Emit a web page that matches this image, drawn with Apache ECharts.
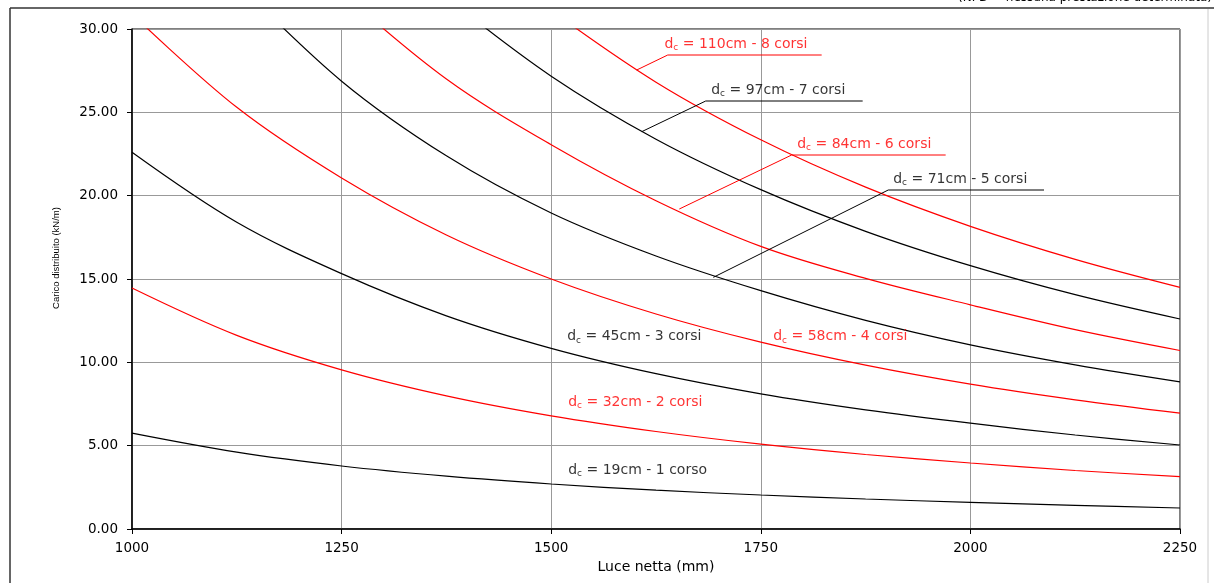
<!DOCTYPE html>
<html>
<head>
<meta charset="utf-8">
<script src="https://cdn.jsdelivr.net/npm/echarts@6/dist/echarts.min.js"></script>
<style>
html,body{margin:0;padding:0;background:#fff;}
#chart{width:1214px;height:583px;}
</style>
</head>
<body>
<div id="chart"></div>
<script>
// ---- data (values above 30 lie off the chart and are clipped) ----
const xTicks = [1000, 1250, 1500, 1750, 2000, 2250];
const dc19 = [[1000,5.75],[1125,4.61],[1250,3.78],[1375,3.17],[1500,2.70],[1625,2.33],[1750,2.04],[1875,1.80],[2000,1.60],[2125,1.415],[2250,1.26]];
const dc32 = [[1000,14.46],[1125,11.62],[1250,9.55],[1375,7.99],[1500,6.79],[1625,5.85],[1750,5.09],[1875,4.47],[2000,3.96],[2125,3.51],[2250,3.14]];
const dc45 = [[1000,22.6],[1125,18.4],[1250,15.32],[1375,12.79],[1500,10.84],[1625,9.32],[1750,8.11],[1875,7.15],[2000,6.35],[2125,5.64],[2250,5.04]];
const dc58 = [[1000,30.9],[1125,25.3],[1250,21.06],[1375,17.64],[1500,15.0],[1625,12.9],[1750,11.21],[1875,9.83],[2000,8.69],[2125,7.75],[2250,6.95]];
const dc71 = [[1125,32.8],[1250,26.87],[1375,22.39],[1500,18.96],[1625,16.38],[1750,14.3],[1875,12.52],[2000,11.05],[2125,9.85],[2250,8.83]];
const dc84 = [[1250,32.2],[1375,27.0],[1500,23.06],[1625,19.7],[1750,16.96],[1875,15.04],[2000,13.45],[2125,11.96],[2250,10.71]];
const dc97 = [[1375,31.9],[1500,27.17],[1625,23.39],[1750,20.36],[1875,17.86],[2000,15.8],[2125,14.06],[2250,12.6]];
const dc110 = [[1500,31.11],[1625,26.81],[1750,23.35],[1875,20.51],[2000,18.16],[2125,16.18],[2250,14.5]];

const curveNames = ['19cm','32cm','45cm','58cm','71cm','84cm','97cm','110cm'];
const curveColors = ['#000000','#ff0000','#000000','#ff0000','#000000','#ff0000','#000000','#ff0000'];

// leader lines (data coordinates)
const lead71 = [[1693.4,15.1],[1902,20.34],[2087.8,20.34]];
const lead84 = [[1652.8,19.2],[1786.8,22.44],[1970.5,22.44]];
const lead97 = [[1608,23.84],[1684.3,25.68],[1871.5,25.68]];
const lead110 = [[1602,27.54],[1639,28.44],[1822.6,28.44]];

// curve labels
const labelText = ['19cm - 1 corso','32cm - 2 corsi','45cm - 3 corsi','58cm - 4 corsi','71cm - 5 corsi','84cm - 6 corsi','97cm - 7 corsi','110cm - 8 corsi'];
const labelPos = [[1519.7,3.54],[1519.7,7.6],[1518.5,11.54],[1764.2,11.54],[1907.3,21.0],[1792.8,23.1],[1690.2,26.34],[1634.5,29.08]];

const xName = 'Luce netta (mm)';
const yName = 'Carico distribuito (kN/m)';
const noteText = '(NPD = nessuna prestazione determinata)';

// ---- chart ----
const FONT = 'DejaVu Sans';
const curves = [dc19, dc32, dc45, dc58, dc71, dc84, dc97, dc110];
const series = [];
curves.forEach((d, i) => {
  series.push({
    name: curveNames[i], type: 'line', data: d, smooth: 0.35,
    showSymbol: false, symbol: 'none', clip: true, z: 3,
    lineStyle: { color: curveColors[i], width: 1.2 }
  });
});
[[lead71,'#000000'],[lead84,'#ff0000'],[lead97,'#000000'],[lead110,'#ff0000']].forEach(([d,c]) => {
  series.push({ type: 'line', data: d, smooth: false, showSymbol: false, symbol: 'none', z: 4,
    lineStyle: { color: c, width: 1 } });
});
series.push({
  type: 'scatter', symbolSize: 1, z: 5,
  itemStyle: { color: 'rgba(0,0,0,0)' },
  data: labelPos.map((p, i) => ({
    value: p,
    label: { color: curveColors[i] }
  })),
  label: {
    show: true, position: 'right', distance: 0,
    fontFamily: FONT, fontSize: 14,
    formatter: (p) => '{d|d}{s|c}{t| = ' + labelText[p.dataIndex] + '}',
    rich: {
      d: { fontFamily: FONT, fontSize: 14, lineHeight: 16 },
      s: { fontFamily: FONT, fontSize: 9, lineHeight: 9, verticalAlign: 'bottom' },
      t: { fontFamily: FONT, fontSize: 14, lineHeight: 16 }
    }
  }
});

const chart = echarts.init(document.getElementById('chart'), null, { renderer: 'canvas' });
chart.setOption({
  animation: false,
  backgroundColor: '#ffffff',
  grid: { left: 132, right: 34, top: 29, bottom: 54, show: true, borderColor: '#000', borderWidth: 1, backgroundColor: 'transparent' },
  xAxis: {
    type: 'value', min: xTicks[0], max: xTicks[xTicks.length - 1], interval: 250,
    name: xName, nameLocation: 'middle', nameGap: 26,
    nameTextStyle: { fontFamily: FONT, fontSize: 14, color: '#000' },
    axisLine: { show: true, lineStyle: { color: '#000', width: 1.5 } },
    axisTick: { show: true, inside: false, length: 5, lineStyle: { color: '#000' } },
    axisLabel: { fontFamily: FONT, fontSize: 13.5, color: '#000', margin: 12, formatter: (v) => String(v) },
    splitLine: { show: true, lineStyle: { color: '#999', width: 1 } }
  },
  yAxis: {
    type: 'value', min: 0, max: 30, interval: 5,
    name: yName, nameLocation: 'middle', nameGap: 71, nameRotate: 90,
    nameTextStyle: { fontFamily: 'Liberation Sans', fontSize: 9.5, color: '#000', padding: [0, 0, 0, 42] },
    axisLine: { show: true, lineStyle: { color: '#000', width: 1.5 } },
    axisTick: { show: true, inside: false, length: 5, lineStyle: { color: '#000' } },
    axisLabel: { fontFamily: FONT, fontSize: 13.5, color: '#000', margin: 14, formatter: (v) => v.toFixed(2) },
    splitLine: { show: true, lineStyle: { color: '#999', width: 1 } }
  },
  graphic: [
    { type: 'line', shape: { x1: 10, y1: 8, x2: 10, y2: 583 }, style: { stroke: '#333', lineWidth: 1.5 } },
    { type: 'line', shape: { x1: 10, y1: 8, x2: 1214, y2: 8 }, style: { stroke: '#333', lineWidth: 1.5 } },
    { type: 'line', shape: { x1: 1208, y1: 9, x2: 1208, y2: 583 }, style: { stroke: '#ccc', lineWidth: 1 } },
    { type: 'text', x: 1212, y: -2, style: { text: noteText, fontFamily: FONT, fontSize: 12, fill: '#000', textAlign: 'right', textVerticalAlign: 'middle' } }
  ],
  series: series
});
</script>
</body>
</html>
